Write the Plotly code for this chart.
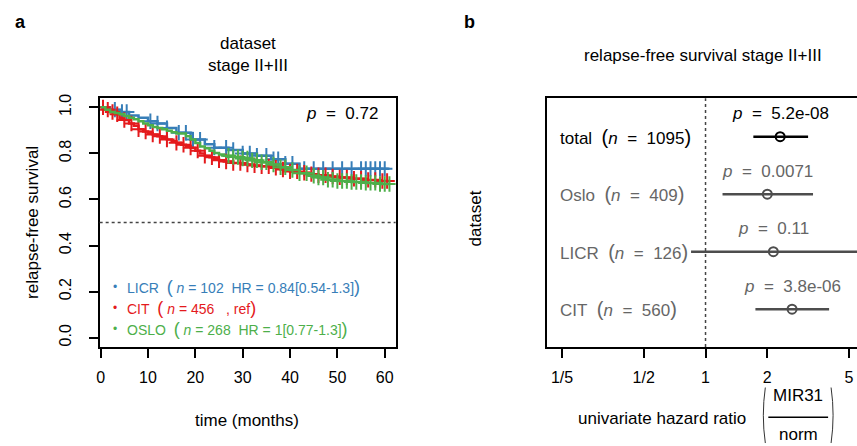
import math
import plotly.graph_objects as go

FONT = "Liberation Sans, Arial, sans-serif"
W, H = 857, 446

# ---------------- Panel a data (Kaplan-Meier) ----------------
groups = ["LICR", "CIT", "OSLO"]
group_colors = ["#377EB8", "#E41A1C", "#4DAF4A"]
group_n = [102, 456, 268]
group_hr = ["HR&nbsp;=&nbsp;0.84[0.54-1.3]", "&nbsp;, ref", "HR&nbsp;=&nbsp;1[0.77-1.3]"]

licr_t = [0, 2, 4, 6, 8, 10, 12, 14, 16, 19, 22, 24, 27, 30, 33, 36, 39, 42]
licr_s = [1.0, 0.99, 0.98, 0.965, 0.955, 0.94, 0.93, 0.91, 0.89, 0.86, 0.84, 0.825, 0.815, 0.80, 0.79, 0.775, 0.755, 0.733]
licr_c = [3, 4.5, 5.5, 10.5, 12, 14, 16.5, 18, 19.5, 21, 24, 26.5, 28, 30, 31.5, 33, 35, 36.5,
          37.5, 39, 40.5, 43, 45, 47, 49, 51, 53, 55, 56, 57, 58, 59, 60]

cit_t = [0, 1, 2, 3, 4, 5, 6, 7, 8, 9, 10, 11, 12, 13, 14, 15, 16, 17, 18, 19, 20, 21, 22, 23,
         24, 25, 26, 28, 30, 32, 34, 36, 38, 40, 42, 44, 46, 48, 50, 53, 56, 59]
cit_s = [1.0, 0.99, 0.98, 0.97, 0.955, 0.945, 0.93, 0.92, 0.905, 0.895, 0.888, 0.882, 0.875,
         0.868, 0.86, 0.853, 0.846, 0.838, 0.832, 0.825, 0.812, 0.80, 0.79, 0.783, 0.776, 0.77,
         0.765, 0.758, 0.752, 0.748, 0.744, 0.738, 0.73, 0.722, 0.716, 0.71, 0.705, 0.70, 0.696,
         0.69, 0.685, 0.68]
cit_c = [0.5, 1.5, 2.5, 3.5, 5, 6.5, 8, 9.5, 11, 12.5, 14, 16, 17.5, 19, 20.5, 22, 23.5, 25,
         26.5, 28, 29.5, 31, 32.5, 34, 35.5, 37, 38.5, 40, 41.5, 43, 44.5, 46, 47.5, 49, 50.5,
         52, 53.5, 55, 56.5, 58, 59.5, 60.5]

oslo_t = [0, 1, 2, 3, 4, 5, 6, 7, 8, 9, 10, 11, 12, 13, 14, 15, 16, 18, 19, 20, 21, 22, 23,
          24, 25, 26, 28, 30, 32, 34, 36, 38, 40, 42, 44, 46, 48, 50, 53, 56, 59]
oslo_s = [1.0, 0.99, 0.98, 0.975, 0.97, 0.962, 0.955, 0.948, 0.94, 0.93, 0.922, 0.915, 0.91,
          0.905, 0.898, 0.892, 0.886, 0.875, 0.86, 0.845, 0.83, 0.822, 0.812, 0.802, 0.795,
          0.79, 0.784, 0.778, 0.77, 0.762, 0.752, 0.74, 0.728, 0.714, 0.703, 0.695, 0.686,
          0.68, 0.676, 0.672, 0.667]
oslo_c = [27, 28, 29, 30, 31, 32, 33, 34, 35, 36.5, 38, 39, 40.5, 42, 43.5, 45, 46, 47, 48,
          49, 50, 51, 52, 53, 54, 55, 56, 57, 58, 59, 60, 61]

t_end = 61
p_value_a = "0.72"

# ---------------- Panel b data (forest plot) ----------------
rows = ["total", "Oslo", "LICR", "CIT"]
row_n = [1095, 409, 126, 560]
row_hr = [2.31, 2.0, 2.14, 2.64]
row_lo = [1.71, 1.21, 0.85, 1.75]
row_hi = [3.16, 3.34, 6.5, 4.0]
row_p = ["5.2e-08", "0.0071", "0.11", "3.8e-06"]
row_pos = [4, 3, 2, 1]
row_colors = ["#000000", "#4d4d4d", "#4d4d4d", "#4d4d4d"]
label_colors = ["#000000", "#666666", "#666666", "#666666"]
hr_ticks = [0.2, 0.5, 1, 2, 5]
hr_ticktext = ["1/5", "1/2", "1", "2", "5"]

SP = "&nbsp;"


def px(x):
    return x / W


def py(y):
    return 1 - y / H


def surv_at(ts, ss, t):
    v = ss[0]
    for ti, si in zip(ts, ss):
        if ti <= t:
            v = si
    return v


fig = go.Figure()

series = [(licr_t, licr_s, licr_c), (cit_t, cit_s, cit_c), (oslo_t, oslo_s, oslo_c)]
for (ts, ss, cs), col, name in zip(series, group_colors, groups):
    fig.add_trace(go.Scatter(
        x=ts + [t_end], y=ss + [ss[-1]], mode="lines", line=dict(color=col, width=2.5, shape="hv"),
        xaxis="x", yaxis="y", showlegend=False, name=name))
    fig.add_trace(go.Scatter(
        x=cs, y=[surv_at(ts, ss, c) for c in cs], mode="markers",
        marker=dict(symbol="cross-thin", size=11, line=dict(color=col, width=2)),
        xaxis="x", yaxis="y", showlegend=False, name=name + " censored"))

# forest plot
for i in range(len(rows)):
    fig.add_trace(go.Scatter(
        x=[row_lo[i], row_hi[i]], y=[row_pos[i], row_pos[i]], mode="lines",
        line=dict(color=row_colors[i], width=2.5), xaxis="x2", yaxis="y2", showlegend=False))
fig.add_trace(go.Scatter(
    x=row_hr, y=row_pos, mode="markers",
    marker=dict(symbol="circle-open", size=9, color=row_colors, line=dict(width=2, color=row_colors)),
    xaxis="x2", yaxis="y2", showlegend=False))

annotations = []
shapes = []


def ann(text, x, y, size=17, color="black", xanchor="center", yanchor="middle", **kw):
    d = dict(text=text, x=x, y=y, xref=kw.pop("xref", "paper"), yref=kw.pop("yref", "paper"),
             xanchor=xanchor, yanchor=yanchor, showarrow=False,
             font=dict(size=size, family=FONT, color=color))
    d.update(kw)
    annotations.append(d)


# panel letters & titles
ann("<b>a</b>", px(18), py(18), size=18)
ann("<b>b</b>", px(468), py(18), size=18)
ann("dataset<br>stage II+III", px(246), py(51), size=17)
ann("relapse-free survival stage II+III", px(702), py(52), size=17)
# axis titles
ann("relapse-free survival", px(29), py(220), size=17, textangle=-90)
ann("time (months)", px(245), py(420), size=17)
ann("dataset", px(474), py(216), size=17, textangle=-90)
ann("univariate hazard ratio", px(748), py(418), size=17, xanchor="right")
ann("MIR31", px(798), py(395), size=17)
ann("norm", px(798), py(434), size=17)
shapes.append(dict(type="line", xref="paper", yref="paper", x0=px(768), x1=px(828), y0=py(417), y1=py(417),
                   line=dict(color="black", width=1.5)))
for xl, d in [(765, -1), (831, 1)]:
    shapes.append(dict(type="path", xref="paper", yref="paper",
                       path=f"M {px(xl)} {py(387)} Q {px(xl + 4 * d)} {py(415)} {px(xl)} {py(443)}",
                       line=dict(color="#333333", width=1)))

# p value panel a
ann(f"<i>p</i>{SP}{SP}={SP}{SP}{p_value_a}", px(378), py(110), size=17, xanchor="right")

# legend panel a
legend_y = [286, 307, 328]
for g, col, n, hr, yy in zip(groups, group_colors, group_n, group_hr, legend_y):
    ann("•", px(112), py(yy), size=12, color=col)
    txt = (f"{g}{SP}{SP}<span style='font-size:18px'>(</span>{SP}<i>n</i>{SP}={SP}{n}{SP}{SP}{hr}"
           f"<span style='font-size:18px'>)</span>")
    ann(txt, px(122), py(yy), size=14, color=col, xanchor="left")

# horizontal dotted line at 0.5
shapes.append(dict(type="line", xref="x domain", yref="y", x0=0, x1=1, y0=0.5, y1=0.5,
                   line=dict(color="#444444", width=1.5, dash="dot")))
# vertical dotted line at HR = 1
shapes.append(dict(type="line", xref="x2", yref="y2 domain", x0=1, x1=1, y0=0, y1=1,
                   line=dict(color="#444444", width=1.5, dash="dot")))

# forest labels
for i in range(len(rows)):
    txt = (f"{rows[i]}{SP}{SP}<span style='font-size:20px'>(</span><i>n</i>{SP}{SP}={SP}{SP}{row_n[i]}"
           f"<span style='font-size:20px'>)</span>")
    ann(txt, px(557), row_pos[i], size=17, color=label_colors[i], xanchor="left", yref="y2")
    # annotations on a log axis take log10 positions
    ann(f"<i>p</i>{SP}{SP}={SP}{SP}{row_p[i]}", math.log10(row_hr[i]), row_pos[i], size=17,
        color=label_colors[i] if i else "black", xref="x2", yref="y2", yshift=23)

axis_common = dict(showgrid=False, zeroline=False, showline=True, linecolor="black", linewidth=1.5,
                   ticks="outside", ticklen=9, tickwidth=1.5, tickcolor="black",
                   tickfont=dict(size=16, family=FONT, color="black"))

fig.update_layout(
    width=W, height=H, margin=dict(l=0, r=0, t=0, b=0),
    paper_bgcolor="white", plot_bgcolor="white", showlegend=False,
    xaxis=dict(domain=[px(97), px(394)], range=[-0.21, 62.3], tickvals=[0, 10, 20, 30, 40, 50, 60],
               mirror=True, anchor="y", ticklabelstandoff=6, **axis_common),
    yaxis=dict(domain=[py(346), py(95)], range=[-0.04, 1.04], tickvals=[0, 0.2, 0.4, 0.6, 0.8, 1.0],
               ticktext=["0.0", "0.2", "0.4", "0.6", "0.8", "1.0"], tickangle=-90,
               mirror=True, anchor="x", ticklabelstandoff=12, **axis_common),
    xaxis2=dict(domain=[px(546), 1.0], type="log", range=[-0.772, 0.738], tickvals=hr_ticks,
                ticktext=hr_ticktext, mirror=True, anchor="y2", ticklabelstandoff=6, **axis_common),
    yaxis2=dict(domain=[py(346), py(95)], range=[0.345, 4.67], showgrid=False, zeroline=False,
                showline=True, linecolor="black", linewidth=1.5, mirror=False, showticklabels=False,
                ticks="", anchor="x2"),
    annotations=annotations, shapes=shapes,
)

fig.write_html("out.html")
